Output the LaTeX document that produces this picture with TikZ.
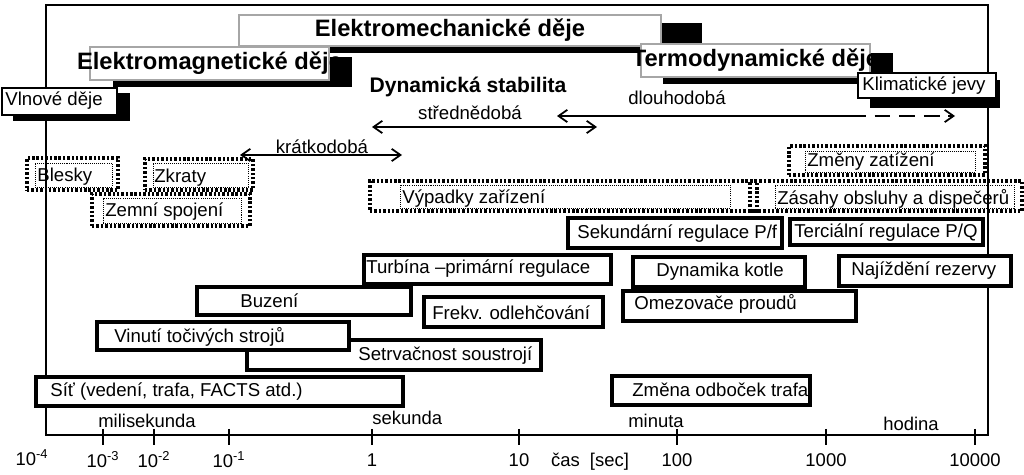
\documentclass[tikz,border=0pt]{standalone}
\usepackage{fontspec}
\setmainfont{Liberation Sans}
\usetikzlibrary{fit,arrows.meta}
\tikzset{
  pbox/.style={draw, line width=2.2pt, fill=white, inner sep=0pt},
  gbox/.style={draw=gray!70, line width=1.2pt, fill=white, inner sep=0pt},
  kbox/.style={draw, line width=0.8pt, fill=white, inner sep=0pt},
  shad/.style={fill=black, inner sep=0pt},
  dout/.style={draw, line width=1.8pt, dash pattern=on 1.4pt off 1.1pt, inner sep=0pt},
  din/.style={draw, line width=0.5pt, dash pattern=on 0.6pt off 0.6pt, inner sep=0pt},
  txt/.style={anchor=west, inner sep=0pt, font=\fontsize{10.6}{12}\selectfont},
  btxt/.style={inner sep=0pt, font=\fontsize{12}{14}\selectfont\bfseries},
  bbtxt/.style={inner sep=0pt, font=\fontsize{13.5}{15}\selectfont\bfseries},
  ax/.style={inner sep=0pt, font=\fontsize{10.5}{12}\selectfont},
  arr/.style={{Straight Barb[length=5pt,width=7pt]}-{Straight Barb[length=5pt,width=7pt]}, line width=1pt},
}
\newcommand\bx[6]{\node[#1, fit={(#3,#4)(#5,#6)}] (#2) {};}
\begin{document}
\begin{tikzpicture}[x=0.02cm,y=-0.02cm]
\useasboundingbox (0,0) rectangle (1024,475);
% frame
\coordinate (f1) at (46,435); \coordinate (f2) at (46,5); \coordinate (f3) at (988,5); \coordinate (f4) at (988,435);
\draw[line width=1.3pt] (f1) -- (f2) -- (f3) -- (f4) -- cycle;
% axis ticks and labels
\foreach \x/\l [count=\i] in {103/{10\textsuperscript{-3}},154/{10\textsuperscript{-2}},229/{10\textsuperscript{-1}},372/1,519/10,677/100,826/1000,975/10000}{
  \coordinate (ta\i) at (\x,429); \coordinate (tb\i) at (\x,445);
  \draw[line width=0.9pt] (ta\i) -- (tb\i);
  \node[ax] (tl\i) at (\x,460) {\l};
}
\node[ax] (tl0) at (32,458) {10\textsuperscript{-4}};
\node[ax] (cas) at (590,462) {čas~ [sec]};
\node[ax,anchor=west] (ms) at (98,421) {milisekunda};
\node[ax,anchor=west] (s) at (372,418) {sekunda};
\node[ax,anchor=west] (mi) at (628,421) {minuta};
\node[ax,anchor=west] (ho) at (883,424) {hodina};
% top process boxes
\bx{shad}{shEm}{279}{23}{702}{53}
\bx{gbox}{Em}{239}{15}{661}{46}
\node[bbtxt] (tEm) at (Em) {Elektromechanické děje};
\bx{shad}{shMg}{113}{57}{352}{87}
\bx{gbox}{Mg}{90}{47}{329}{80}
\node[bbtxt] (tMg) at (Mg) {Elektromagnetické děje};
\bx{shad}{shTd}{663}{53}{893}{84}
\bx{gbox}{Td}{641}{44}{870}{77}
\node[bbtxt] (tTd) at (Td) {Termodynamické děje};
\bx{shad}{shKl}{870}{80}{1000}{108}
\bx{kbox}{Kl}{858}{73}{996}{98}
\node[txt] (tKl) at (862,86) {Klimatické jevy};
\bx{shad}{shVl}{13}{93}{130}{121}
\bx{kbox}{Vl}{2}{88}{117}{115}
\node[txt] (tVl) at (5,101) {Vlnové děje};
% stability
\node[btxt] (ds) at (468,87) {Dynamická stabilita};
\node[txt,anchor=center] (sd) at (470,113) {střednědobá};
\node[txt,anchor=center] (dd) at (677,98) {dlouhodobá};
\node[txt,anchor=center] (kd) at (322,147) {krátkodobá};
\coordinate (s1) at (372,127); \coordinate (s2) at (597,127);
\draw[arr] (s1) -- (s2);
\coordinate (k1) at (240,155); \coordinate (k2) at (402,155);
\draw[arr] (k1) -- (k2);
\coordinate (d1) at (557,116); \coordinate (d2) at (850,116); \coordinate (d3) at (955,116);
\draw[line width=1pt,{Straight Barb[length=5pt,width=7pt]}-] (d1) -- (d2);
\draw[line width=1pt,dash pattern=on 9pt off 5pt,-{Straight Barb[length=5pt,width=7pt]}] (d2) -- (d3);
% dotted boxes
\bx{dout}{oBl}{27}{158}{118}{190} \bx{din}{iBl}{35}{163}{112}{187}
\node[txt] (tBl) at (37,177) {Blesky};
\bx{dout}{oZk}{145}{159}{253}{190} \bx{din}{iZk}{153}{163}{248}{187}
\node[txt] (tZk) at (154,178) {Zkraty};
\bx{dout}{oZe}{92}{194}{250}{226} \bx{din}{iZe}{103}{198}{241}{223}
\node[txt] (tZe) at (105,212) {Zemní spojení};
\bx{dout}{oVy}{370}{181}{757}{211} \bx{din}{iVy}{400}{185}{730}{208}
\node[txt] (tVy) at (402,199) {Výpadky zařízení};
\bx{dout}{oZa}{750}{181}{1022}{211} \bx{din}{iZa}{775}{185}{1014}{208}
\node[txt] (tZa) at (777,199) {Zásahy obsluhy a dispečerů};
\bx{dout}{oZm}{789}{146}{985}{175} \bx{din}{iZm}{805}{151}{975}{172}
\node[txt] (tZm) at (807,162) {Změny zatížení};
% solid boxes
\bx{pbox}{Se}{568}{218}{782}{248} \node[txt] (tSe) at (577,234) {Sekundární regulace P/f};
\bx{pbox}{Te}{790}{219}{983}{245} \node[txt] (tTe) at (794,233) {Terciální regulace P/Q};
\bx{pbox}{Tu}{364}{255}{611}{284} \node[txt] (tTu) at (366,269) {Turbína –primární regulace};
\bx{pbox}{Dy}{633}{257}{805}{287} \node[txt] (tDy) at (656,272) {Dynamika kotle};
\bx{pbox}{Na}{839}{256}{1011}{286} \node[txt] (tNa) at (851,271) {Najíždění rezervy};
\bx{pbox}{Bu}{197}{287}{411}{315} \node[txt] (tBu) at (240,301) {Buzení};
\bx{pbox}{Om}{623}{291}{856}{321} \node[txt] (tOm) at (634,304) {Omezovače proudů};
\bx{pbox}{Fr}{424}{297}{603}{327} \node[txt] (tFr) at (432,313) {Frekv. odlehčování};
\bx{pbox}{St}{247}{340}{541}{370} \node[txt] (tSt) at (358,356) {Setrvačnost soustrojí};
\bx{pbox}{Vi}{97}{322}{349}{350} \node[txt] (tVi) at (114,337) {Vinutí točivých strojů};
\bx{pbox}{Si}{36}{377}{403}{406} \node[txt] (tSi) at (50,392) {Síť (vedení, trafa, FACTS atd.)};
\bx{pbox}{Zo}{612}{376}{810}{405} \node[txt] (tZo) at (632,390) {Změna odboček trafa};
\end{tikzpicture}
\end{document}
